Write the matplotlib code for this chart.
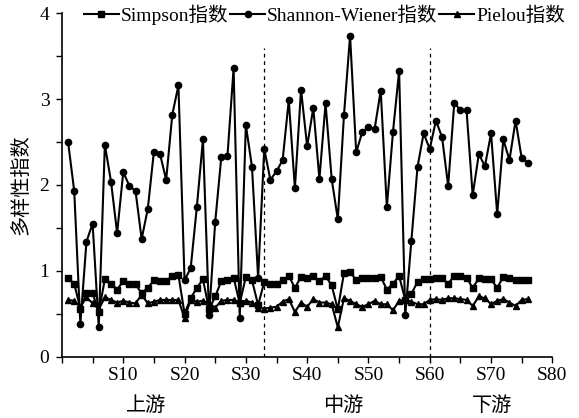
import matplotlib
matplotlib.use('Agg')
import matplotlib.pyplot as plt
from matplotlib.ticker import MultipleLocator
import matplotlib.transforms as mtransforms

plt.rcParams['font.family'] = ['Liberation Serif', 'Noto Sans CJK SC']

# sampling sites S1..S76
sites = list(range(1, 77))

shannon = [2.50, 1.93, 0.38, 1.34, 1.55, 0.35, 2.47, 2.04, 1.44, 2.15,
           1.99, 1.93, 1.37, 1.72, 2.39, 2.36, 2.06, 2.82, 3.16, 0.89,
           1.03, 1.74, 2.53, 0.48, 1.57, 2.33, 2.34, 3.36, 0.45, 2.70,
           2.21, 0.92, 2.42, 2.06, 2.16, 2.29, 2.99, 1.96, 3.11, 2.45,
           2.90, 2.07, 2.95, 2.07, 1.60, 2.81, 3.74, 2.38, 2.62, 2.67,
           2.65, 3.10, 1.74, 2.62, 3.33, 0.48, 1.35, 2.21, 2.60, 2.42,
           2.75, 2.56, 1.99, 2.96, 2.87, 2.87, 1.88, 2.36, 2.22, 2.60,
           1.66, 2.53, 2.29, 2.75, 2.31, 2.26]

simpson = [0.91, 0.85, 0.56, 0.74, 0.74, 0.52, 0.90, 0.85, 0.78, 0.88,
           0.85, 0.84, 0.74, 0.80, 0.89, 0.88, 0.88, 0.94, 0.95, 0.50,
           0.68, 0.80, 0.90, 0.55, 0.70, 0.88, 0.89, 0.92, 0.62, 0.93,
           0.89, 0.60, 0.87, 0.85, 0.85, 0.89, 0.94, 0.80, 0.93, 0.91,
           0.94, 0.88, 0.94, 0.83, 0.55, 0.97, 0.99, 0.89, 0.91, 0.91,
           0.91, 0.93, 0.78, 0.85, 0.94, 0.66, 0.73, 0.87, 0.90, 0.90,
           0.92, 0.91, 0.85, 0.94, 0.94, 0.92, 0.80, 0.91, 0.90, 0.90,
           0.80, 0.93, 0.91, 0.89, 0.89, 0.89]

pielou = [0.66, 0.65, 0.58, 0.69, 0.62, 0.55, 0.69, 0.66, 0.63, 0.65,
          0.63, 0.62, 0.72, 0.62, 0.64, 0.66, 0.66, 0.66, 0.66, 0.45,
          0.66, 0.64, 0.65, 0.62, 0.57, 0.65, 0.66, 0.66, 0.63, 0.65,
          0.63, 0.57, 0.56, 0.57, 0.58, 0.64, 0.67, 0.52, 0.63, 0.58,
          0.67, 0.63, 0.63, 0.61, 0.34, 0.68, 0.65, 0.61, 0.58, 0.61,
          0.65, 0.61, 0.61, 0.54, 0.65, 0.66, 0.64, 0.61, 0.61, 0.66,
          0.67, 0.66, 0.68, 0.68, 0.67, 0.66, 0.59, 0.70, 0.68, 0.61,
          0.65, 0.67, 0.63, 0.59, 0.66, 0.67]

xtick_pos = [0, 10, 20, 30, 40, 50, 60, 70, 80]
xtick_labels = ['', 'S10', 'S20', 'S30', 'S40', 'S50', 'S60', 'S70', 'S80']
boundaries = [33, 60]
regions = ['上游', '中游', '下游']
region_x = [13.7, 45.8, 70.2]

fig = plt.figure(figsize=(5.79, 4.18), dpi=100)
ax = fig.add_axes([0.107, 0.147, 0.847, 0.821])

ax.plot(sites, simpson, color='black', lw=1.5, marker='s', ms=4.5, label='Simpson指数')
ax.plot(sites, shannon, color='black', lw=1.5, marker='o', ms=4.5, label='Shannon-Wiener指数')
ax.plot(sites, pielou, color='black', lw=1.5, marker='^', ms=4.5, label='Pielou指数')

for b in boundaries:
    ax.plot([b, b], [0, 3.6], color='black', lw=0.9, ls=(0, (3, 3)))

ax.set_xlim(0, 80)
ax.set_ylim(0, 4)
ax.set_xticks(xtick_pos)
ax.set_xticklabels(xtick_labels)
ax.xaxis.set_minor_locator(MultipleLocator(5))
ax.yaxis.set_major_locator(MultipleLocator(1))
ax.yaxis.set_minor_locator(MultipleLocator(0.5))
ax.tick_params(which='both', direction='out', length=4, width=1, labelsize=14)
ax.tick_params(axis='y', pad=5)
for s in ['top', 'right']:
    ax.spines[s].set_visible(False)
for s in ['left', 'bottom']:
    ax.spines[s].set_linewidth(1.2)

ax.set_ylabel('多样性指数', fontsize=14.5, labelpad=6)

trans = mtransforms.blended_transform_factory(ax.transData, ax.transAxes)
for name, xr in zip(regions, region_x):
    ax.text(xr, -0.145, name, transform=trans, ha='center', va='center', fontsize=14.5)

ax.legend(loc='upper center', bbox_to_anchor=(0.535, 1.025), ncol=3, frameon=False,
          fontsize=14, handlelength=1.8, handletextpad=0.1, columnspacing=0.1,
          borderaxespad=0, borderpad=0)

fig.savefig('out.png', dpi=100)
